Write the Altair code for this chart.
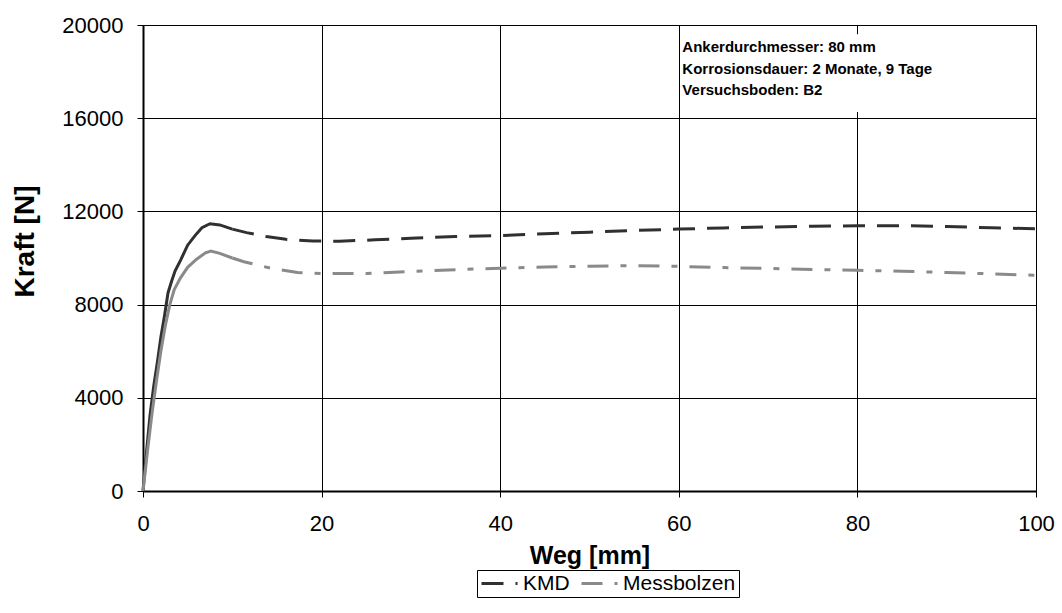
import altair as alt
import pandas as pd

# ---- data ----
kmd_x = [0, 0.4, 0.8, 1.2, 1.6, 2.0, 2.4, 2.8, 3.2, 3.6, 4.2, 5.0, 5.8, 6.6, 7.5, 8.6, 10.0,
         11.6, 13.8, 16.0, 19.0, 22.0, 26.0, 30.0, 35.0, 40.0, 45.0, 50.0, 55.0, 60.0, 65.0,
         70.0, 75.0, 80.0, 85.0, 90.0, 95.0, 100.0]
kmd_y = [0, 1700, 3300, 4500, 5500, 6600, 7500, 8500, 9000, 9450, 9900, 10550, 10950, 11300,
         11470, 11420, 11240, 11090, 10920, 10800, 10730, 10720, 10780, 10850, 10920, 10960,
         11040, 11110, 11180, 11240, 11290, 11330, 11360, 11380, 11390, 11350, 11300, 11250]

mb_x = [0, 0.5, 1.0, 1.5, 2.0, 2.5, 3.0, 3.5, 4.2, 5.0, 6.0, 7.0, 7.6, 8.6, 10.0, 11.3, 14.3,
        17.3, 20.0, 25.0, 30.0, 35.0, 40.0, 45.0, 50.0, 55.0, 60.0, 65.0, 70.0, 75.0, 80.0,
        85.0, 90.0, 95.0, 100.0]
mb_y = [0, 1700, 3300, 4700, 6000, 7100, 8000, 8650, 9150, 9600, 9950, 10220, 10300, 10200,
        10000, 9840, 9560, 9380, 9330, 9340, 9420, 9500, 9560, 9610, 9650, 9670, 9640, 9590,
        9550, 9510, 9470, 9430, 9380, 9320, 9260]

series_names = ["KMD", "Messbolzen"]
series_colors = ["#303030", "#8a8a8a"]
series_dash = [[22, 12], [21, 12, 6, 12]]

x_ticks = [0, 20, 40, 60, 80, 100]
y_ticks = [0, 4000, 8000, 12000, 16000, 20000]

info_lines = ["Ankerdurchmesser: 80 mm",
              "Korrosionsdauer: 2 Monate, 9 Tage",
              "Versuchsboden: B2"]
info_y = [19056, 18112, 17210]
info_x = [60.4] * 3
box = pd.DataFrame({"x": [60.3], "x2": [99.6], "y": [19600], "y2": [16270]})

FONT = "Liberation Sans"

df = pd.concat([
    pd.DataFrame({"Weg": kmd_x, "Kraft": kmd_y, "Serie": "KMD"}),
    pd.DataFrame({"Weg": mb_x, "Kraft": mb_y, "Serie": "Messbolzen"}),
], ignore_index=True)

xscale = alt.Scale(domain=[0, 100], nice=False, zero=False)
yscale = alt.Scale(domain=[0, 20000], nice=False)
cscale = alt.Scale(domain=series_names, range=series_colors)
dscale = alt.Scale(domain=series_names, range=series_dash)

xaxis = alt.Axis(values=x_ticks, title="Weg [mm]", grid=True, gridColor="#000000",
                 gridWidth=1, domainColor="#000000", domainWidth=2, tickColor="#000000",
                 tickSize=6, labelFontSize=22, labelFont=FONT, labelColor="#000000",
                 labelPadding=16, labelFlush=False, labelOverlap=False,
                 titleFont=FONT, titleFontSize=25, titleFontWeight="bold",
                 titleColor="#000000", titlePadding=9, format="d")
yaxis = alt.Axis(values=y_ticks, title="Kraft [N]", grid=True, gridColor="#000000",
                 gridWidth=1, domainColor="#000000", domainWidth=2, tickColor="#000000",
                 tickSize=6, labelFontSize=22, labelFont=FONT, labelColor="#000000",
                 labelPadding=14, labelFlush=False, labelOverlap=False,
                 titleFont=FONT, titleFontSize=28, titleFontWeight="bold",
                 titleColor="#000000", titleX=-110, titleY=216, titleBaseline="alphabetic",
                 format="d")

legend = alt.Legend(title=None, orient="none", legendX=334, legendY=545,
                    direction="horizontal", symbolType="stroke", symbolSize=1296,
                    symbolStrokeWidth=3, labelFont=FONT, labelFontSize=21,
                    labelColor="#000000", strokeColor="#000000", fillColor="#ffffff",
                    padding=3, columnPadding=10, labelOffset=4, clipHeight=21)

base = alt.Chart(df)

solid = base.transform_filter(alt.datum.Weg <= 10).mark_line(strokeWidth=3).encode(
    x=alt.X("Weg:Q", scale=xscale, axis=xaxis),
    y=alt.Y("Kraft:Q", scale=yscale, axis=yaxis),
    color=alt.Color("Serie:N", scale=cscale, legend=legend),
    order="Weg:Q",
)

dashed = base.transform_filter(alt.datum.Weg >= 10).mark_line(strokeWidth=3).encode(
    x=alt.X("Weg:Q", scale=xscale),
    y=alt.Y("Kraft:Q", scale=yscale),
    color=alt.Color("Serie:N", scale=cscale, legend=legend),
    strokeDash=alt.StrokeDash("Serie:N", scale=dscale, legend=legend),
    order="Weg:Q",
)

rect = alt.Chart(box).mark_rect(fill="#ffffff").encode(
    x="x:Q", x2="x2:Q", y="y:Q", y2="y2:Q")

info = alt.Chart(pd.DataFrame({"t": info_lines, "x": info_x, "y": info_y})).mark_text(
    align="left", baseline="middle", font=FONT, fontSize=15, fontWeight="bold",
    color="#000000").encode(x="x:Q", y="y:Q", text="t:N")

chart = alt.layer(solid, dashed, rect, info).properties(
    width=893, height=466,
    autosize=alt.AutoSizeParams(type="none"),
    padding={"left": 143, "top": 25, "right": 26, "bottom": 122},
    background="#ffffff",
).configure_view(stroke="#000000", strokeWidth=1)

chart.save("out.html", embed_options={"renderer": "svg", "actions": False})
